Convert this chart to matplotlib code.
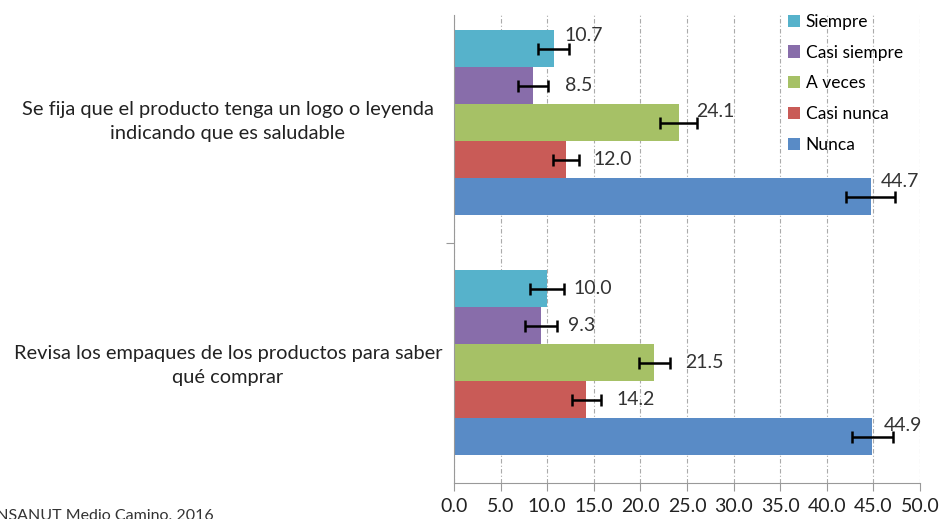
import numpy as np
import matplotlib.pyplot as plt

# Datos: porcentaje por frecuencia, con barras de error
preguntas = ["Se fija que el producto tenga un logo o leyenda\nindicando que es saludable",
             "Revisa los empaques de los productos para saber\nqué comprar"]
respuestas = ["Siempre", "Casi siempre", "A veces", "Casi nunca", "Nunca"]
valores = np.array([[10.7, 8.5, 24.1, 12.0, 44.7],
                    [10.0, 9.3, 21.5, 14.2, 44.9]])
errores = np.array([[1.65, 1.6, 2.0, 1.4, 2.6],
                    [1.8, 1.7, 1.7, 1.55, 2.15]])
colores = ['#56B2CB', '#886DAA', '#A6C166', '#C95B57', '#598BC6']

# desplazamiento de las etiquetas (x en unidades, y en fraccion de barra)
etq_dx = [[-0.5, 1.8, -0.1, 1.6, -1.5], [1.0, 1.2, 1.6, 1.7, -0.9]]
etq_dy = [[-0.35, 0.0, -0.3, 0.0, -0.4], [0.0, 0.0, 0.0, 0.0, -0.3]]

plt.rcParams['font.family'] = ['Lato', 'DejaVu Sans']

fig = plt.figure(figsize=(9.41, 5.19), dpi=100)
ax = fig.add_axes([0.4825, 0.0694, 0.4952, 0.9016])

h = 0.154
for g in range(len(preguntas)):
    for k in range(len(respuestas)):
        y = g - 2 * h + k * h
        ax.barh(y, valores[g, k], height=h, color=colores[k],
                label=respuestas[k] if g == 0 else None, zorder=2)
        ax.errorbar(valores[g, k], y, xerr=errores[g, k], fmt='none',
                    ecolor='black', elinewidth=1.8, capsize=4, capthick=1.8, zorder=3)
        ax.text(valores[g, k] + errores[g, k] + etq_dx[g][k], y + etq_dy[g][k] * h,
                f"{valores[g, k]:.1f}", va='center', ha='left', fontsize=14,
                color='#333333', zorder=4)

ax.set_xlim(0, 50)
ax.set_ylim(1.5, -0.448)
ax.set_xticks(np.arange(0, 50.1, 5))
ax.set_xticklabels([f"{v:.1f}" for v in np.arange(0, 50.1, 5)], fontsize=14, color='#222222')
ax.tick_params(axis='x', direction='out', length=6, color='#999999', pad=5)

ax.set_yticks([0.5])
ax.set_yticklabels([''])
ax.tick_params(axis='y', direction='out', length=6, color='#999999')
for g, p in enumerate(preguntas):
    fig.text(228 / 941, 1 - (122 + g * 244) / 519, p, ha='center', va='center',
             fontsize=14.4, color='#222222', linespacing=1.5)

ax.grid(axis='x', color='#aaaaaa', linestyle=(0, (4, 2, 1, 2)), linewidth=0.8, zorder=0)
for s in ['top', 'right']:
    ax.spines[s].set_visible(False)
ax.spines['left'].set_color('#999999')
ax.spines['bottom'].set_color('#999999')

ax.legend(loc='upper left', bbox_to_anchor=(0.695, 1.025), frameon=False, fontsize=12.5,
          handlelength=0.7, handleheight=0.7, handletextpad=0.3, labelspacing=0.85,
          borderaxespad=0.2)

fig.text(-0.014, 1 - 509 / 519, "ENSANUT Medio Camino, 2016", ha='left', va='top',
         fontsize=11.5, color='#333333')

fig.savefig('out.png', dpi=100)
